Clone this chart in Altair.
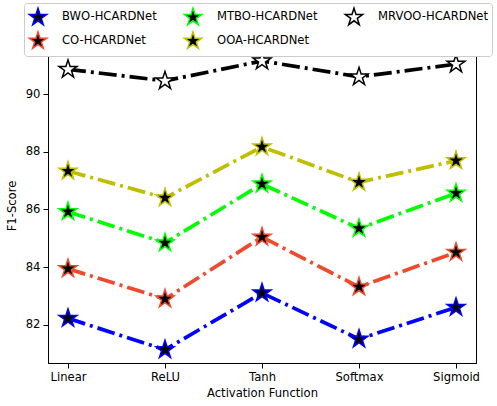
import altair as alt
import pandas as pd

categories = ["Linear", "ReLU", "Tanh", "Softmax", "Sigmoid"]
series_names = ["BWO-HCARDNet", "CO-HCARDNet", "MTBO-HCARDNet", "OOA-HCARDNet", "MRVOO-HCARDNet"]
bwo = [82.22, 81.13, 83.10, 81.50, 82.60]
co = [83.94, 82.89, 85.04, 83.31, 84.51]
mtbo = [85.92, 84.84, 86.88, 85.34, 86.56]
ooa = [87.33, 86.40, 88.17, 86.94, 87.69]
mrvoo = [90.86, 90.46, 91.15, 90.60, 91.04]
line_colors = ["#0000ff", "#f04a2e", "#00ff00", "#bfbf00", "#000000"]
fill_colors = ["#000000", "#000000", "#000000", "#000000", "#ffffff"]
y_ticks = [82, 84, 86, 88, 90]

STAR = ("M0,-1L0.2245,-0.309L0.9511,-0.309L0.3633,0.118L0.5878,0.809L0,0.382"
        "L-0.5878,0.809L-0.3633,0.118L-0.9511,-0.309L-0.2245,-0.309Z")

all_values = [bwo, co, mtbo, ooa, mrvoo]
rows = []
for s, vals in zip(series_names, all_values):
    for c, v in zip(categories, vals):
        rows.append({"series": s, "act": c, "f1": v})
df = pd.DataFrame(rows)

font = "DejaVu Sans"
fs = 11.6

x_enc = alt.X("act:N", sort=categories, title="Activation Function",
              scale=alt.Scale(type="point", padding=0.206),
              axis=alt.Axis(labelAngle=0, domainColor="black", tickColor="black",
                            tickSize=5, labelPadding=3, titlePadding=5))
y_enc = alt.Y("f1:Q", title="F1-Score",
              scale=alt.Scale(domain=[80.67, 91.6], nice=False, zero=False),
              axis=alt.Axis(values=y_ticks, grid=False, domainColor="black", tickColor="black",
                            tickSize=5, labelPadding=3, titlePadding=8))

legend = alt.Legend(title=None, orient="none", legendX=-24, legendY=-45, columns=3,
                    symbolType=STAR, symbolSize=330, symbolStrokeWidth=1.5,
                    labelFont=font, labelFontSize=fs, labelColor="black",
                    columnPadding=24, rowPadding=0, labelOffset=14,
                    padding=4, strokeColor="#cccccc", fillColor="white", cornerRadius=3)

stroke_scale = alt.Scale(domain=series_names, range=line_colors)
fill_scale = alt.Scale(domain=series_names, range=fill_colors)

lines = alt.Chart(df).mark_line(strokeWidth=3.7, strokeDash=[18, 5, 3, 5]).encode(
    x=x_enc, y=y_enc,
    stroke=alt.Stroke("series:N", scale=stroke_scale, legend=legend),
)
points = alt.Chart(df).mark_point(shape=STAR, filled=True, size=360, strokeWidth=1.5, opacity=1).encode(
    x=x_enc, y=y_enc,
    stroke=alt.Stroke("series:N", scale=stroke_scale, legend=legend),
    fill=alt.Fill("series:N", scale=fill_scale, legend=legend),
)

chart = alt.layer(lines, points).properties(
    width=428, height=315,
    background="white",
    autosize=alt.AutoSizeParams(type="none"),
    padding={"left": 48, "top": 48, "right": 21, "bottom": 43},
).configure_view(stroke="black", strokeWidth=1).configure_axis(
    labelFont=font, labelFontSize=fs, labelColor="black",
    titleFont=font, titleFontSize=fs, titleFontWeight="normal", titleColor="black",
)

chart.save("out.html", embed_options={"renderer": "svg", "actions": False})
